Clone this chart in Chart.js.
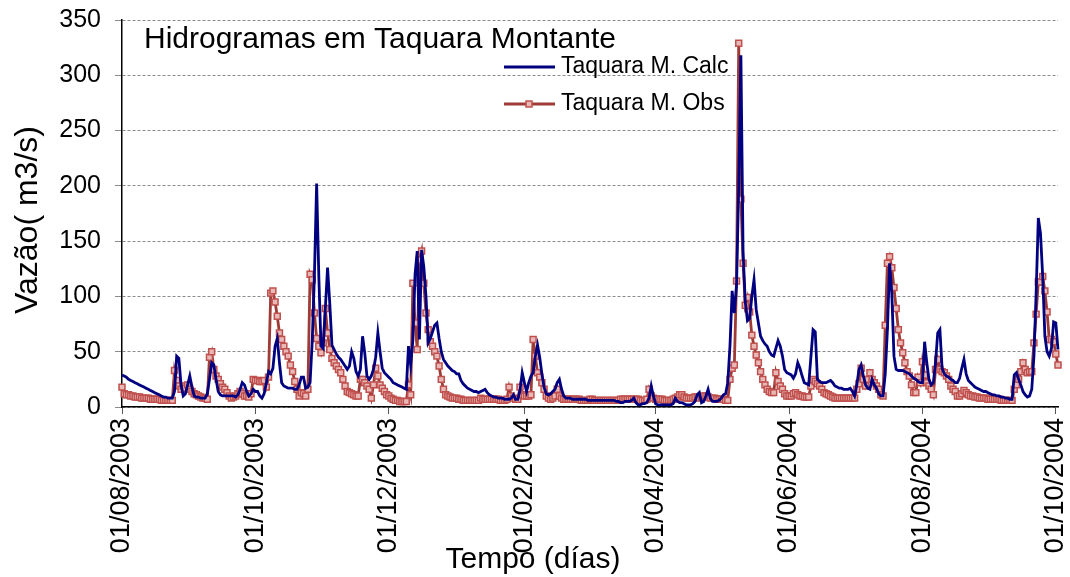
<!DOCTYPE html>
<html>
<head>
<meta charset="utf-8">
<title>Hidrogramas em Taquara Montante</title>
<script src="https://cdn.jsdelivr.net/npm/chart.js@4.4.0/dist/chart.umd.min.js"></script>
<style>
  html, body { margin: 0; padding: 0; background: #fff; }
  #grafico { display: block; }
</style>
</head>
<body>
<canvas id="grafico" width="1070" height="577"></canvas>
<script>
const chartTitle = "Hidrogramas em Taquara Montante";
const xTitle = "Tempo (días)";
const yTitle = "Vazão( m3/s)";
const seriesNames = ["Taquara M. Calc", "Taquara M. Obs"];

// dias contados a partir de 01/08/2003
const tickDays = [0, 61, 122, 184, 244, 305, 366, 427];
const tickLabels = ["01/08/2003", "01/10/2003", "01/12/2003", "01/02/2004",
  "01/04/2004", "01/06/2004", "01/08/2004", "01/10/2004"];

// vazão calculada (m3/s), um valor por dia
const calc = [
  29, 28, 27, 25, 24, 23, 22, 21, 20, 19,
  18, 17, 16, 15, 14, 13, 12, 11, 10, 9,
  9, 8, 8, 8, 14, 46, 44, 20, 10, 12,
  20, 28, 18, 10, 9, 9, 8, 8, 8, 12,
  25, 40, 38, 25, 14, 11, 10, 10, 10, 10,
  10, 10, 9, 11, 16, 22, 20, 14, 10, 12,
  16, 14, 14, 10, 8, 12, 22, 32, 30, 35,
  55, 62, 40, 22, 19, 18, 17, 17, 17, 16,
  16, 20, 27, 27, 17, 18, 22, 60, 120, 202,
  118, 55, 53, 90, 126, 94, 56, 52, 48, 45,
  43, 40, 37, 34, 37, 50, 44, 32, 28, 34,
  64, 49, 28, 25, 28, 34, 45, 67, 50, 35,
  31, 29, 27, 25, 22, 21, 20, 19, 18, 17,
  16, 55, 38, 60, 120, 141, 61, 142, 127, 100,
  58, 62, 68, 74, 76, 62, 50, 43, 40, 37,
  35, 33, 32, 30, 30, 24, 21, 19, 17, 16,
  15, 14, 14, 13, 14, 15, 16, 13, 11, 10,
  9, 9, 8, 8, 8, 7, 7, 7, 8, 11,
  7, 7, 15, 31, 22, 14, 22, 28, 31, 46,
  56, 45, 30, 18, 12, 11, 12, 14, 16, 22,
  25, 16, 10, 8, 8, 8, 7, 7, 7, 7,
  7, 7, 7, 6, 6, 6, 6, 6, 6, 6,
  6, 6, 6, 6, 6, 6, 5, 5, 4, 4,
  5, 5, 5, 6, 8, 4, 2, 2, 3, 3,
  4, 8, 19, 10, 3, 2, 2, 2, 2, 2,
  2, 2, 3, 8, 5, 4, 4, 3, 2, 2,
  2, 3, 5, 11, 13, 4, 5, 10, 16, 8,
  5, 5, 5, 6, 8, 11, 12, 22, 55, 105,
  85, 110, 200, 318, 140, 95, 78, 80, 100, 115,
  88, 76, 64, 60, 57, 55, 50, 47, 46, 53,
  60, 55, 46, 34, 31, 30, 29, 26, 30, 40,
  35, 28, 22, 21, 20, 45, 70, 68, 25, 23,
  22, 22, 22, 23, 24, 22, 19, 18, 17, 17,
  16, 16, 16, 17, 14, 10, 20, 34, 38, 28,
  20, 17, 16, 25, 20, 17, 12, 10, 10, 30,
  70, 130, 103, 46, 34, 33, 33, 33, 32, 31,
  30, 28, 26, 25, 23, 22, 22, 59, 40, 25,
  20, 22, 40, 67, 70, 35, 30, 28, 27, 25,
  24, 22, 22, 26, 35, 43, 30, 24, 22, 20,
  18, 17, 16, 15, 14, 14, 13, 12, 11, 11,
  10, 10, 9, 9, 8, 8, 7, 7, 29, 31,
  25, 20, 14, 11, 9, 10, 16, 46, 103, 171,
  157, 118, 64, 50, 46, 53, 77, 76, 52, 37
];

// vazão observada (m3/s), um valor por dia
const obs = [
  18, 12, 11, 11, 10, 10, 9, 9, 9, 8,
  8, 8, 8, 7, 7, 7, 7, 7, 6, 6,
  6, 6, 6, 6, 33, 24, 19, 16, 19, 17,
  20, 16, 14, 12, 11, 10, 9, 8, 8, 7,
  45, 50, 34, 28, 25, 21, 18, 16, 13, 10,
  8, 9, 10, 12, 14, 12, 10, 10, 9, 12,
  25, 24, 24, 23, 23, 24, 18, 27, 103, 105,
  95, 82, 67, 61, 55, 50, 46, 38, 32, 23,
  16, 10, 13, 12, 10, 16, 120, 115, 85, 62,
  55, 49, 58, 89, 67, 52, 44, 40, 37, 34,
  31, 25, 19, 14, 13, 12, 11, 10, 10, 25,
  25, 22, 19, 16, 8, 20, 35, 28, 20, 17,
  14, 11, 10, 8, 7, 6, 6, 5, 5, 5,
  5, 20, 11, 112, 76, 52, 133, 141, 112, 85,
  70, 59, 55, 50, 46, 37, 25, 16, 11, 10,
  9, 8, 8, 8, 7, 7, 6, 6, 6, 6,
  6, 6, 6, 6, 8, 7, 7, 7, 7, 7,
  7, 7, 7, 6, 6, 6, 7, 18, 10, 8,
  7, 7, 18, 11, 10, 10, 10, 11, 61, 46,
  31, 27, 22, 16, 10, 8, 7, 8, 10, 16,
  10, 8, 7, 7, 7, 7, 7, 7, 7, 7,
  6, 6, 6, 6, 7, 7, 6, 6, 6, 6,
  6, 6, 6, 6, 6, 6, 6, 6, 7, 7,
  7, 7, 7, 7, 7, 7, 7, 6, 6, 6,
  7, 16, 10, 8, 7, 7, 7, 7, 6, 6,
  6, 6, 7, 8, 9, 11, 11, 9, 8, 8,
  8, 8, 9, 9, 8, 9, 10, 10, 9, 8,
  8, 8, 7, 7, 7, 7, 6, 6, 25, 35,
  38, 114, 329, 188, 130, 92, 99, 86, 65, 55,
  47, 40, 32, 25, 20, 16, 14, 13, 13, 31,
  23, 19, 16, 12, 10, 10, 10, 12, 13, 11,
  10, 10, 9, 9, 9, 19, 25, 23, 21, 19,
  16, 13, 12, 11, 10, 9, 8, 8, 8, 8,
  8, 8, 8, 8, 8, 8, 16, 21, 35, 25,
  19, 25, 31, 25, 22, 19, 16, 11, 10, 74,
  130, 136, 126, 108, 89, 70, 58, 49, 40, 32,
  28, 20, 13, 13, 27, 22, 41, 29, 22, 19,
  16, 11, 34, 43, 34, 32, 31, 28, 25, 19,
  16, 14, 10, 10, 12, 15, 13, 11, 10, 10,
  9, 9, 8, 8, 8, 8, 7, 7, 7, 7,
  7, 7, 6, 6, 6, 6, 6, 6, 16, 20,
  25, 32, 40, 34, 31, 32, 32, 58, 84, 113,
  113, 118, 105, 86, 61, 61, 59, 48, 38, 37
];

const days = calc.map((v, i) => i);

const fontFamily = "'Liberation Sans', Arial, sans-serif";
const calcColor = "#000080";
const obsColor = "#9E3B37";
const obsMarker = "#C0504D";
const obsMarkerFill = "#E8B8B6";

// titulo, legenda e titulos dos eixos desenhados por cima
const textLayer = {
  id: "textLayer",
  afterDraw(chart) {
    const ctx = chart.ctx;
    ctx.save();
    ctx.fillStyle = "#000";
    ctx.textBaseline = "middle";
    ctx.textAlign = "left";

    ctx.font = "30px " + fontFamily;
    ctx.fillText(chartTitle, 144, 40);

    // legenda
    ctx.font = "23px " + fontFamily;
    ctx.lineWidth = 2.8;
    ctx.strokeStyle = calcColor;
    ctx.beginPath();
    ctx.moveTo(504, 67);
    ctx.lineTo(555, 67);
    ctx.stroke();
    ctx.fillText(seriesNames[0], 561, 67);

    ctx.strokeStyle = obsColor;
    ctx.beginPath();
    ctx.moveTo(504, 104);
    ctx.lineTo(555, 104);
    ctx.stroke();
    ctx.lineWidth = 1.5;
    ctx.fillStyle = obsMarkerFill;
    ctx.strokeStyle = obsMarker;
    ctx.fillRect(526, 101, 6, 6);
    ctx.strokeRect(526, 101, 6, 6);
    ctx.fillStyle = "#000";
    ctx.fillText(seriesNames[1], 561, 104);

    // titulos dos eixos
    ctx.font = "30px " + fontFamily;
    ctx.textAlign = "center";
    ctx.fillText(xTitle, 533, 560);

    ctx.font = "32px " + fontFamily;
    ctx.translate(28, 220);
    ctx.rotate(-Math.PI / 2);
    ctx.fillText(yTitle, 0, 0);
    ctx.restore();
  }
};

const config = {
  type: "line",
  data: {
    labels: days,
    datasets: [
      {
        label: seriesNames[0],
        data: days.map((d) => ({ x: d, y: calc[d] })),
        borderColor: calcColor,
        borderWidth: 2.8,
        pointRadius: 0,
        tension: 0,
        clip: 6,
      },
      {
        label: seriesNames[1],
        data: days.map((d) => ({ x: d, y: obs[d] })),
        borderColor: obsColor,
        borderWidth: 2.8,
        pointStyle: "rect",
        pointRadius: 4.2,
        pointBorderWidth: 1.5,
        pointBorderColor: obsMarker,
        pointBackgroundColor: obsMarkerFill,
        tension: 0,
        clip: 6,
      },
    ],
  },
  options: {
    responsive: false,
    animation: false,
    devicePixelRatio: 1,
    layout: { padding: { left: 0, top: 20, right: 12, bottom: 0 } },
    plugins: {
      legend: { display: false },
      title: { display: false },
      tooltip: { enabled: false },
    },
    scales: {
      x: {
        type: "linear",
        min: 0,
        max: 428,
        afterBuildTicks: (scale) => {
          scale.ticks = tickDays.map((v) => ({ value: v }));
        },
        afterFit: (scale) => {
          scale.height = 170;
          scale.paddingLeft = 0;
          scale.paddingRight = 0;
        },
        ticks: {
          autoSkip: false,
          minRotation: 90,
          maxRotation: 90,
          padding: 4,
          color: "#000",
          font: { family: fontFamily, size: 27 },
          callback: (value) => tickLabels[tickDays.indexOf(value)],
        },
        grid: {
          drawOnChartArea: false,
          drawTicks: true,
          tickLength: 7,
          tickColor: "#555",
        },
        border: { color: "#000", width: 1.5 },
      },
      y: {
        min: 0,
        max: 350,
        afterFit: (scale) => {
          scale.width = 122;
          scale.paddingTop = 0;
          scale.paddingBottom = 0;
        },
        ticks: {
          stepSize: 50,
          padding: 14,
          color: "#000",
          font: { family: fontFamily, size: 25 },
        },
        grid: {
          color: "#8a8a8a",
          lineWidth: 1,
          tickLength: 7,
          tickColor: "#8a8a8a",
        },
        border: { color: "#000", width: 1.5, dash: [3, 2] },
      },
    },
  },
  plugins: [textLayer],
};

const grafico = new Chart(document.getElementById("grafico"), config);
</script>
</body>
</html>
